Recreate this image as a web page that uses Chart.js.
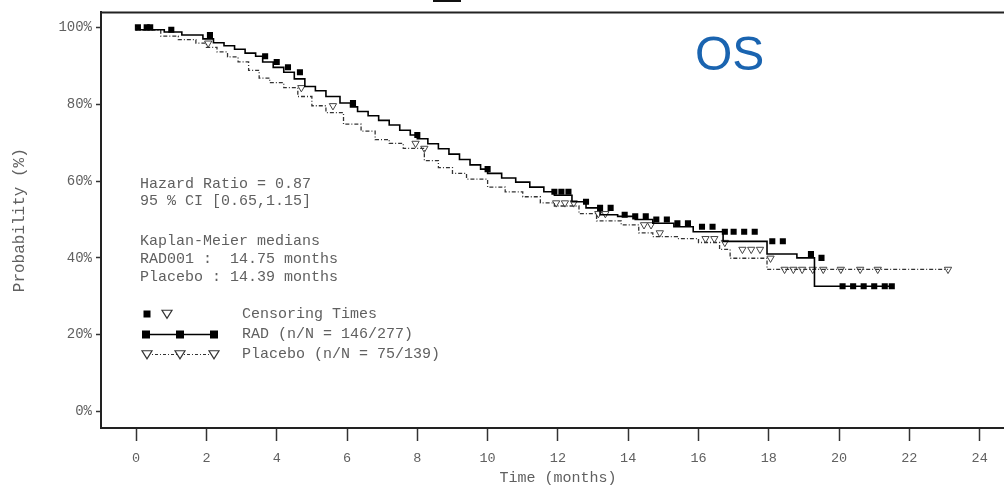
<!DOCTYPE html>
<html>
<head>
<meta charset="utf-8">
<script src="https://cdn.jsdelivr.net/npm/chart.js@4.4.1/dist/chart.umd.min.js"></script>
<style>
  html, body { margin: 0; padding: 0; background: #fff; overflow: hidden; width: 1004px; height: 487px; }
  #wrap { position: relative; width: 1020px; height: 487px; }
  canvas { display: block; }
</style>
</head>
<body>
<div id="wrap"><canvas id="c" width="1020" height="487"></canvas></div>
<script>
// ---- Data ----
const monthTicks = [0, 2, 4, 6, 8, 10, 12, 14, 16, 18, 20, 22, 24];
const probTicks = [0, 20, 40, 60, 80, 100];

// RAD001 Kaplan-Meier step curve (time in months, survival %)
const radTime = [0, 0.8, 1.3, 1.9, 2.2, 2.5, 2.8, 3.1, 3.4, 3.6, 3.9, 4.2, 4.5, 4.8, 5.1, 5.4, 5.8, 6.1, 6.3, 6.6, 6.9, 7.2, 7.5, 7.8, 8.0, 8.3, 8.6, 8.9, 9.2, 9.5, 9.8, 10.0, 10.4, 10.8, 11.2, 11.6, 11.9, 12.4, 12.8, 13.2, 13.7, 14.2, 14.7, 15.3, 15.85, 16.7, 17.95, 18.8, 19.3, 19.75, 21.5];
const radSurv = [100, 99.4, 98.8, 98.0, 97.0, 96.0, 95.2, 94.3, 93.3, 92.5, 91.0, 89.6, 88.3, 86.6, 84.6, 83.5, 82.0, 80.3, 79.3, 78.1, 77.0, 75.8, 74.6, 73.2, 72.0, 71.0, 69.7, 68.4, 67.0, 65.6, 64.2, 63.1, 62.0, 60.8, 59.7, 58.4, 57.2, 56.3, 54.6, 53.0, 51.2, 50.8, 50.0, 49.0, 48.1, 46.8, 44.3, 41.0, 40.0, 32.6, 32.6];
const radCensor = [0.05, 0.3, 0.4, 1.0, 2.1, 3.67, 4.0, 4.32, 4.66, 6.17, 8.0, 10.0, 11.9, 12.1, 12.3, 12.8, 13.2, 13.5, 13.9, 14.2, 14.5, 14.8, 15.1, 15.4, 15.7, 16.1, 16.4, 16.75, 17.0, 17.3, 17.6, 18.1, 18.4, 19.2, 19.5, 20.1, 20.4, 20.7, 21.0, 21.3, 21.5];

// Placebo Kaplan-Meier step curve
const pboTime = [0, 0.7, 1.2, 1.7, 2.0, 2.3, 2.6, 2.9, 3.2, 3.5, 3.8, 4.2, 4.6, 5.0, 5.4, 5.9, 6.4, 6.8, 7.2, 7.6, 8.2, 8.6, 9.0, 9.4, 10.0, 10.5, 11.0, 11.5, 11.9, 12.6, 13.1, 13.8, 14.3, 14.7, 15.4, 16.0, 16.6, 16.9, 17.95, 18.3, 23.1];
const pboSurv = [100, 99.3, 97.7, 96.8, 95.9, 94.8, 93.6, 92.3, 91.0, 88.8, 86.8, 85.6, 84.3, 82.0, 79.6, 77.8, 74.8, 73.0, 70.8, 69.8, 68.5, 65.3, 63.5, 62.0, 60.5, 58.4, 57.2, 55.9, 54.3, 53.5, 51.5, 49.6, 48.6, 46.5, 45.5, 45.0, 44.0, 42.2, 39.9, 37.0, 37.0];
const pboCensor = [2.05, 4.7, 5.6, 7.95, 8.2, 11.95, 12.2, 12.45, 13.15, 13.35, 14.45, 14.65, 14.9, 16.2, 16.45, 16.75, 17.25, 17.5, 17.75, 18.05, 18.45, 18.7, 18.95, 19.25, 19.55, 20.05, 20.6, 21.1, 23.1];

// ---- helpers ----
function survAt(times, surv, t) {
  let v = surv[0];
  for (let i = 0; i < times.length; i++) { if (times[i] <= t) v = surv[i]; else break; }
  return v;
}
const radLine = radTime.map((t, i) => ({ x: t, y: radSurv[i] }));
const pboLine = pboTime.map((t, i) => ({ x: t, y: pboSurv[i] }));
const radPts = radCensor.map(t => ({ x: t, y: survAt(radTime, radSurv, t) }));
const pboPts = pboCensor.map(t => ({ x: t, y: survAt(pboTime, pboSurv, t) }));

const MONO = '"Liberation Mono", "Courier New", monospace';
const TXT = '#606060';

const decor = {
  id: 'decor',
  afterDraw(chart) {
    const ctx = chart.ctx;
    const a = chart.chartArea;
    ctx.save();
    // top frame line
    ctx.strokeStyle = '#222';
    ctx.lineWidth = 2;
    ctx.beginPath();
    ctx.moveTo(a.left - 1, a.top);
    ctx.lineTo(a.right, a.top);
    ctx.stroke();
    // small cropped mark at top
    ctx.fillStyle = '#111';
    ctx.fillRect(433, 0, 28, 2);

    // annotation text
    ctx.fillStyle = TXT;
    ctx.font = '15px ' + MONO;
    ctx.textBaseline = 'middle';
    ctx.textAlign = 'left';
    const lines = [
      ['Hazard Ratio = 0.87', 184],
      ['95 % CI [0.65,1.15]', 201.5],
      ['Kaplan-Meier medians', 241.5],
      ['RAD001 :  14.75 months', 259],
      ['Placebo : 14.39 months', 277],
      ['Censoring Times', 314],
      ['RAD (n/N = 146/277)', 334.5],
      ['Placebo (n/N = 75/139)', 354.5]
    ];
    lines.forEach(([s, y], i) => ctx.fillText(s, i >= 5 ? 242 : 140, y));

    // legend swatches
    const sq = (x, y, s) => { ctx.fillStyle = '#000'; ctx.fillRect(x - s / 2, y - s / 2, s, s); };
    const tri = (x, y, r) => {
      ctx.beginPath();
      ctx.moveTo(x - r, y - r * 0.75);
      ctx.lineTo(x + r, y - r * 0.75);
      ctx.lineTo(x, y + r * 0.85);
      ctx.closePath();
      ctx.fillStyle = '#fff';
      ctx.fill();
      ctx.strokeStyle = '#333';
      ctx.lineWidth = 1.2;
      ctx.stroke();
    };
    sq(147, 314, 7);
    tri(167, 314, 5);
    // RAD legend line
    ctx.strokeStyle = '#000';
    ctx.lineWidth = 1.5;
    ctx.setLineDash([]);
    ctx.beginPath(); ctx.moveTo(145, 334.5); ctx.lineTo(215, 334.5); ctx.stroke();
    [146, 180, 214].forEach(x => sq(x, 334.5, 8));
    // Placebo legend line
    ctx.strokeStyle = '#333';
    ctx.lineWidth = 1.2;
    ctx.setLineDash([3, 2, 1, 2]);
    ctx.beginPath(); ctx.moveTo(147, 354.5); ctx.lineTo(214, 354.5); ctx.stroke();
    ctx.setLineDash([]);
    [147, 180, 214].forEach(x => tri(x, 354.5, 5));

    // OS label
    ctx.fillStyle = '#1a64b0';
    ctx.font = '48px "Liberation Sans", Arial, sans-serif';
    ctx.textAlign = 'left';
    ctx.textBaseline = 'alphabetic';
    ctx.fillText('OS', 695, 70);
    ctx.restore();
  }
};

new Chart(document.getElementById('c'), {
  type: 'line',
  data: {
    datasets: [
      { label: 'RAD', data: radLine, stepped: 'after', borderColor: '#000', borderWidth: 1.6, pointRadius: 0, fill: false },
      { label: 'Placebo', data: pboLine, stepped: 'after', borderColor: '#333', borderWidth: 1.3, borderDash: [4, 2, 1, 2], pointRadius: 0, fill: false },
      { type: 'scatter', label: 'RAD censored', data: radPts, pointStyle: 'rect', pointRadius: 4.3, backgroundColor: '#000', borderColor: '#000', borderWidth: 0, showLine: false },
      { type: 'scatter', label: 'Placebo censored', data: pboPts, pointStyle: 'triangle', rotation: 180, pointRadius: 4.2, backgroundColor: '#fff', borderColor: '#444', borderWidth: 1, showLine: false }
    ]
  },
  options: {
    responsive: false,
    animation: false,
    layout: { padding: { top: 9, right: 5, left: 0, bottom: 0 } },
    plugins: { legend: { display: false }, tooltip: { enabled: false } },
    scales: {
      x: {
        type: 'linear',
        min: -1,
        max: 25,
        afterBuildTicks: s => { s.ticks = monthTicks.map(v => ({ value: v })); },
        afterFit: s => { s.height = 59; },
        grid: { display: true, drawOnChartArea: false, drawTicks: true, tickLength: 13, tickColor: '#333', tickWidth: 1.5 },
        border: { display: true, color: '#222', width: 2 },
        ticks: { color: TXT, font: { family: MONO, size: 13.5 }, padding: 9, maxRotation: 0, callback: v => String(v) },
        title: { display: true, text: 'Time (months)', color: TXT, font: { family: MONO, size: 15 }, padding: { top: 0, bottom: 0 } }
      },
      y: {
        type: 'linear',
        min: -4.3,
        max: 103.9,
        afterBuildTicks: s => { s.ticks = probTicks.map(v => ({ value: v })); },
        afterFit: s => { s.width = 101; },
        grid: { display: true, drawOnChartArea: false, drawTicks: true, tickLength: 5, tickColor: '#333', tickWidth: 1.5 },
        border: { display: true, color: '#222', width: 2 },
        ticks: { color: TXT, font: { family: MONO, size: 14 }, padding: 4, callback: v => v + '%' },
        title: { display: true, text: 'Probability (%)', color: TXT, font: { family: MONO, size: 16 }, padding: { top: 10, bottom: 0 } }
      }
    }
  },
  plugins: [decor]
});
</script>
</body>
</html>
